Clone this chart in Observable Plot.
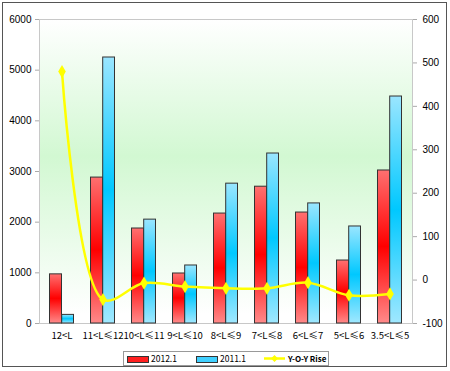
<!DOCTYPE html>
<html><head><meta charset="utf-8">
<script src="https://cdn.jsdelivr.net/npm/d3@7"></script>
<script src="https://cdn.jsdelivr.net/npm/@observablehq/plot@0.6"></script>
<style>
body{margin:0;background:#fff;}
#wrap{position:relative;width:450px;height:371px;overflow:hidden;font-family:Arial,"Liberation Sans",sans-serif;}
#border{position:absolute;left:2px;top:2px;width:443px;height:363px;border:1.5px solid #555;}
#chart{position:absolute;left:0;top:0;}
#legend{position:absolute;left:123px;top:351px;width:204px;height:13px;border:1px solid #999;background:#fff;font-family:"Noto Sans CJK SC",sans-serif;font-size:8.5px;}
.item{position:absolute;top:0;height:13px;line-height:13px;white-space:nowrap;}
.sw{position:absolute;top:3.5px;width:20px;height:5px;border:1px solid #333;}
</style></head><body>
<div id="wrap"><div id="border"></div><div id="chart"></div>
<div id="legend">
 <div class="sw" style="left:3px;background:#ff2020"></div><div class="item" style="left:27px">2012.1</div>
 <div class="sw" style="left:72px;background:#40d0ff"></div><div class="item" style="left:96px">2011.1</div>
 <svg style="position:absolute;left:139px;top:0" width="24" height="13"><line x1="1" x2="22" y1="6.5" y2="6.5" stroke="#ffff00" stroke-width="2.5"/><path d="M11.5,3 L15,6.5 L11.5,10 L8,6.5Z" fill="#ffff00"/></svg>
 <div class="item" style="left:164px;font-weight:bold;font-size:8px">Y-O-Y Rise</div>
</div>
</div>
<script>
const categories = ["12<L","11<L≤12","10<L≤11","9<L≤10","8<L≤9","7<L≤8","6<L≤7","5<L≤6","3.5<L≤5"];
const sales2012 = [970, 2880, 1875, 987, 2170, 2700, 2190, 1243, 3020];
const sales2011 = [170, 5250, 2050, 1145, 2760, 3355, 2370, 1915, 4480];
const yoyRise = [480, -45, -7, -15, -19, -19, -6, -35, -32];
const leftTicks = [0,1000,2000,3000,4000,5000,6000];
const rightTicks = [-100,0,100,200,300,400,500,600];

const rMin = -100, rMax = 600, lMax = 6000;
const toLeft = v => (v - rMin) / (rMax - rMin) * lMax;
const toRight = v => String(Math.round(v * (rMax - rMin) / lMax + rMin));

const rows = categories.map((c, i) => ({c, a: sales2012[i], b: sales2011[i], r: toLeft(yoyRise[i])}));

const chart = Plot.plot({
  width: 450, height: 345,
  marginLeft: 39, marginRight: 38, marginTop: 19, marginBottom: 22,
  style: {background: "transparent", fontSize: "10px", fontFamily: "Arial, 'Liberation Sans', sans-serif", color: "#000"},
  x: {domain: categories, padding: 0, label: null},
  y: {domain: [0, lMax], label: null},
  marks: [
    Plot.frame({fill: "url(#bgGrad)", stroke: "#c8c8c8"}),
    Plot.barY(rows, {x: "c", y: "a", fill: "url(#redGrad)", stroke: "#333", strokeWidth: 1, insetLeft: 8.5, insetRight: 20.5}),
    Plot.barY(rows, {x: "c", y: "b", fill: "url(#blueGrad)", stroke: "#333", strokeWidth: 1, insetLeft: 20.7, insetRight: 8.5}),
    Plot.line(rows, {x: "c", y: "r", stroke: "#ffff00", strokeWidth: 2.5, curve: "catmull-rom"}),
    Plot.dot(rows, {x: "c", y: "r", symbol: "diamond", r: 4, fill: "#ffff00"}),
    Plot.axisY({anchor: "left", ticks: leftTicks, tickFormat: d => String(d), tickSize: 4, stroke: "#aaa", tickPadding: 4}),
    Plot.axisY({anchor: "right", ticks: rightTicks.map(toLeft), tickFormat: toRight, tickSize: 4, stroke: "#aaa", tickPadding: 6}),
    Plot.axisX({tickSize: 0, tickPadding: 9, fontFamily: "'Noto Sans CJK SC', sans-serif", fontSize: 9.5})
  ]
});

const ns = "http://www.w3.org/2000/svg";
const defs = document.createElementNS(ns, "defs");
defs.innerHTML = `
<linearGradient id="bgGrad" x1="0" y1="0" x2="0" y2="1">
  <stop offset="0" stop-color="#ffffff"/>
  <stop offset="0.45" stop-color="#d2f8d2"/>
  <stop offset="0.97" stop-color="#ffffff"/>
</linearGradient>
<linearGradient id="redGrad" x1="0" y1="0" x2="0" y2="1">
  <stop offset="0" stop-color="#ff7070"/>
  <stop offset="0.5" stop-color="#ff0000"/>
  <stop offset="1" stop-color="#ff8a8a"/>
</linearGradient>
<linearGradient id="blueGrad" x1="0" y1="0" x2="0" y2="1">
  <stop offset="0" stop-color="#9ae6ff"/>
  <stop offset="0.5" stop-color="#00c8ff"/>
  <stop offset="1" stop-color="#a0e8ff"/>
</linearGradient>`;
chart.insertBefore(defs, chart.firstChild);
document.getElementById("chart").appendChild(chart);
</script>
</body></html>
